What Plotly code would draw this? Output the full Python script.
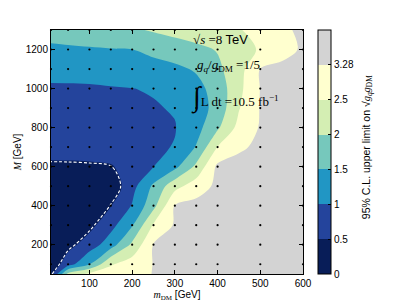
import numpy as np
import plotly.graph_objects as go

# ---------------- data ----------------
m_dm = [10, 50, 100, 150, 200, 250, 300, 350, 400, 450, 500, 550, 600]          # GeV
m_med = [50, 100, 200, 300, 400, 500, 600, 700, 800, 900, 1000, 1100, 1200, 1300]  # GeV

# 95% C.L. upper limit on sqrt(g_q g_DM), one list per mediator mass (rows follow m_med)
limit_50 = [0.35, 2.15, 2.66, 2.87, 3.09, 3.30, 3.59, 3.75, 3.90, 3.98, 3.98, 3.98, 3.98]
limit_100 = [0.15, 0.79, 1.48, 2.45, 2.89, 3.30, 3.59, 3.75, 3.90, 3.98, 3.98, 3.98, 3.98]
limit_200 = [0.15, 0.33, 0.74, 1.27, 2.10, 3.32, 3.67, 3.83, 3.90, 3.98, 3.98, 3.98, 3.98]
limit_300 = [0.15, 0.29, 0.35, 0.84, 1.46, 2.59, 3.36, 3.67, 3.83, 3.90, 3.98, 3.98, 3.98]
limit_400 = [0.15, 0.22, 0.25, 0.48, 1.03, 1.85, 3.32, 3.51, 3.75, 3.90, 3.98, 3.98, 3.98]
limit_500 = [0.12, 0.12, 0.15, 0.15, 0.83, 1.59, 2.33, 2.91, 3.44, 3.67, 3.83, 3.98, 3.98]
limit_600 = [0.35, 0.36, 0.39, 0.45, 0.75, 0.99, 1.37, 2.11, 3.44, 3.67, 3.83, 3.98, 3.98]
limit_700 = [0.80, 0.80, 0.80, 0.81, 0.84, 0.93, 1.02, 1.53, 2.52, 3.10, 3.51, 3.75, 3.90]
limit_800 = [0.85, 0.85, 0.85, 0.86, 0.88, 0.91, 0.98, 1.32, 1.92, 2.74, 3.34, 3.67, 3.90]
limit_900 = [0.90, 0.90, 0.90, 0.91, 0.93, 0.97, 1.03, 1.25, 1.68, 2.47, 3.32, 3.67, 3.90]
limit_1000 = [0.93, 0.93, 0.94, 0.97, 0.995, 1.03, 1.23, 1.35, 1.70, 2.37, 3.30, 3.67, 3.90]
limit_1100 = [1.18, 1.19, 1.20, 1.23, 1.28, 1.34, 1.40, 1.55, 1.90, 2.30, 3.30, 3.51, 3.75]
limit_1200 = [1.43, 1.44, 1.46, 1.48, 1.495, 1.61, 1.75, 1.88, 2.03, 2.29, 2.58, 2.93, 3.40]
limit_1300 = [1.65, 1.70, 1.75, 1.83, 1.93, 2.05, 2.16, 2.26, 2.37, 2.47, 2.75, 3.10, 3.46]

# colour levels of the limit
level_edges = [0, 0.5, 1, 1.5, 2, 2.5, 3.28, 4.06]
level_labels = ["0", "0.5", "1", "1.5", "2", "2.5", "3.28"]
expected_level = 0.465   # dashed white contour

# simulated grid points (black dots)
grid_x = [10, 50, 100, 150, 200, 250, 300, 350, 400, 500, 600]
grid_y = [100, 200, 300, 400, 500, 600, 700, 800, 900, 1000, 1100, 1200, 1300]

x_ticks = [100, 200, 300, 400, 500, 600]
y_ticks = [200, 400, 600, 800, 1000, 1200]

band_colors = ["#081d58", "#24449c", "#2196c4", "#76c8bc", "#d4eeb3", "#ffffcf", "#d3d3d3"]

# ---------------- figure ----------------
limit = np.array([limit_50, limit_100, limit_200, limit_300, limit_400, limit_500, limit_600,
                  limit_700, limit_800, limit_900, limit_1000, limit_1100, limit_1200, limit_1300])
idx = np.arange(len(level_edges))
w = np.interp(limit, level_edges, idx)           # boundary-norm style mapping to band index
w_exp = float(np.interp(expected_level, level_edges, idx))

n_b = len(band_colors)
fill_scale = [[i / (n_b - 1), c] for i, c in enumerate(band_colors)]
bar_scale = []
for i, c in enumerate(band_colors):
    bar_scale.append([i / n_b, c])
    bar_scale.append([(i + 1) / n_b, c])

SERIF = "Liberation Serif"
SANS = "Liberation Sans"

fig = go.Figure()
fig.add_trace(go.Contour(
    x=m_dm, y=m_med, z=w,
    autocontour=False,
    contours=dict(start=1, end=len(level_labels) - 1, size=1, coloring="fill", showlines=False),
    colorscale=fill_scale, showscale=False,
    line=dict(width=0, smoothing=0.9),
    hoverinfo="skip",
))
fig.add_trace(go.Contour(
    x=m_dm, y=m_med, z=w,
    autocontour=False,
    contours=dict(start=w_exp, end=w_exp, size=1, coloring="none"),
    line=dict(color="white", width=1.1, dash="3px,2px", smoothing=0.9),
    showscale=False, hoverinfo="skip",
))
gx, gy = np.meshgrid(grid_x, grid_y)
fig.add_trace(go.Scatter(
    x=gx.ravel(), y=gy.ravel(), mode="markers",
    marker=dict(color="black", size=2.2), hoverinfo="skip", showlegend=False, cliponaxis=False,
))
# colour bar (discrete bands)
fig.add_trace(go.Scatter(
    x=[-1000], y=[-1000], mode="markers", showlegend=False, hoverinfo="skip",
    marker=dict(color=[0], cmin=0, cmax=n_b, colorscale=bar_scale, showscale=True, size=1,
                colorbar=dict(
                    x=1.0595, xanchor="left", xpad=0, y=0.5, yanchor="middle", ypad=0,
                    len=1.0, lenmode="fraction", thickness=13,
                    outlinewidth=1, outlinecolor="black",
                    tickmode="array", tickvals=list(range(len(level_labels))), ticktext=level_labels,
                    ticks="inside", ticklen=3, tickcolor="black",
                    tickfont=dict(family=SANS, size=10, color="black"),
                )),
))

# colour-bar label
fig.add_annotation(x=1.254, y=0.52, xref="paper", yref="paper", xanchor="center", yanchor="middle",
                   textangle=-90, showarrow=False,
                   text="95% C.L. upper limit on √<span style=\"font-family:" + SERIF + "\"><i>g</i><sub><i>q</i></sub><i>g</i><sub>DM</sub></span>",
                   font=dict(family=SANS, size=10.5, color="black"))

ann_font = dict(family=SERIF, size=13, color="black")
fig.add_annotation(x=338, y=1249, xref="x", yref="y", xanchor="left", yanchor="middle", showarrow=False,
                   text="√<i>s</i> =8 <span style=\"font-family:" + SANS + "\">TeV</span>", font=ann_font)
fig.add_annotation(x=346, y=1116, xref="x", yref="y", xanchor="left", yanchor="middle", showarrow=False,
                   text="<i>g</i><sub><i>q</i></sub>/<i>g</i><sub>DM</sub> =1/5", font=ann_font)
fig.add_annotation(x=334, y=955, xref="x", yref="y", xanchor="left", yanchor="middle", showarrow=False,
                   text="<span style=\"font-size:28px\">∫</span>L dt =10.5 fb<sup>−1</sup>", font=ann_font)

axis_common = dict(showline=True, linecolor="black", linewidth=1, mirror="ticks", ticks="inside",
                   ticklen=4, tickcolor="black", showgrid=False, zeroline=False,
                   tickfont=dict(family=SANS, size=10, color="black"))
fig.update_xaxes(range=[10, 600], tickvals=x_ticks, **axis_common,
                 title=dict(text="<span style=\"font-family:" + SERIF + "\"><i>m</i><sub>DM</sub></span> [GeV]",
                            font=dict(family=SANS, size=10, color="black"), standoff=2))
fig.update_yaxes(range=[50, 1300], tickvals=y_ticks, **axis_common,
                 title=dict(text="<span style=\"font-family:" + SERIF + "\"><i>M</i></span> [GeV]",
                            font=dict(family=SANS, size=10, color="black"), standoff=2))
# the page body adds an 8px margin, so the figure is drawn 8px smaller at the top-left
fig.update_layout(width=399, height=297, margin=dict(l=43, r=104, t=22, b=31, autoexpand=False),
                  plot_bgcolor="white", paper_bgcolor="white", showlegend=False)
fig.write_html("out.html")
